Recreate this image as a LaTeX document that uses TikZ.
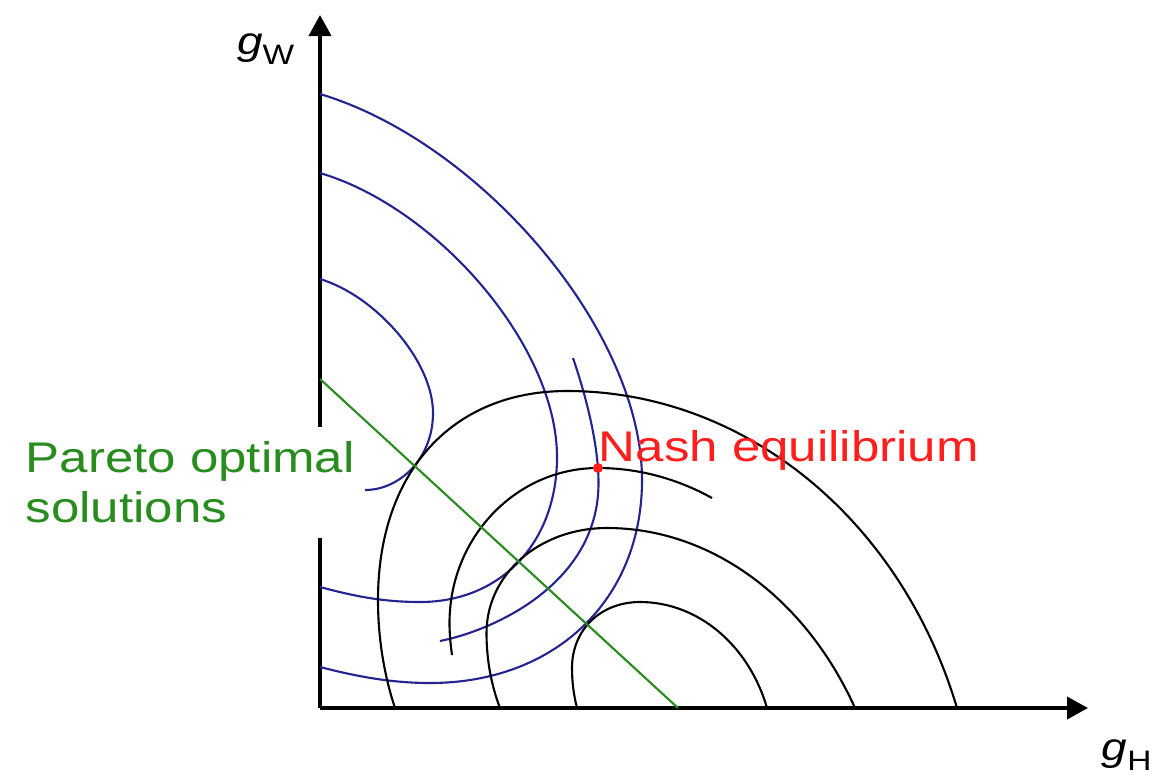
\documentclass[tikz,border=0pt]{standalone}
\usepackage{fontspec}
\setmainfont{Liberation Sans}
\usepackage{xcolor}
\usepackage{tikz}
\usetikzlibrary{arrows.meta,positioning}
\definecolor{curveblue}{RGB}{36,36,145}
\definecolor{paretogreen}{RGB}{40,140,30}
\definecolor{nashred}{RGB}{255,30,30}
\tikzset{
  axisline/.style = {line width=1.1pt, -{Triangle[length=2.1mm,width=2.2mm]}},
  wcurve/.style   = {curveblue, line width=0.6pt},
  hcurve/.style   = {black, line width=0.6pt},
  pareto/.style   = {paretogreen, line width=0.6pt},
  axlab/.style    = {inner sep=0pt, xscale=1.19, font=\fontsize{11}{13}\selectfont},
  biglab/.style   = {inner sep=0pt, xscale=1.19, font=\fontsize{12.2}{14.2}\selectfont},
}

\begin{document}
\begin{tikzpicture}
\useasboundingbox (-3.20,-0.68) rectangle (8.50,7.08);
\coordinate (O) at (0,0);
\coordinate (xend) at (7.68,0);
\coordinate (yend) at (0,6.93);
\draw[axisline] (O) -- (xend);
\draw[axisline] (O) -- (yend);
\node[axlab, anchor=base east] (gw) at (-0.25,6.53) {\textit{g}\raisebox{-1mm}{\fontsize{8}{9}\selectfont W}};
\node[axlab, anchor=base west] (gh) at (7.81,-0.52) {\textit{g}\raisebox{-1mm}{\fontsize{8}{9}\selectfont H}};
\node[biglab, paretogreen, fill=white, inner xsep=0.5mm, inner ysep=1.5mm,
      align=left, anchor=north west] (paretolab) at (-3.01,2.82) {Pareto optimal\\solutions};
% wife
\draw[wcurve] (0,6.14) .. controls (1.6,5.66) and (3.22,3.78) .. (3.22,2.28)
  .. controls (3.22,1.08) and (2.35,0.25) .. (1.10,0.25)
  .. controls (0.70,0.25) and (0.35,0.32) .. (0,0.41);
\draw[wcurve] (0,5.35) .. controls (1.18,5.0) and (2.37,3.615) .. (2.37,2.51)
  .. controls (2.37,1.655) and (1.81,1.06) .. (1.0,1.06)
  .. controls (0.6,1.06) and (0.3,1.13) .. (0,1.21);
\draw[wcurve] (0,4.29) .. controls (0.56,4.12) and (1.13,3.47) .. (1.13,2.95)
  .. controls (1.13,2.50) and (0.80,2.18) .. (0.45,2.18);
\draw[wcurve] (2.53,3.50) .. controls (2.65,3.15) and (2.785,2.65) .. (2.785,2.25)
  .. controls (2.785,1.25) and (1.75,0.78) .. (1.20,0.67);
% husband
\draw[hcurve] (0.75,0) .. controls (0.638,0.338) and (0.58,0.708) .. (0.58,1.08)
  .. controls (0.58,2.355) and (1.317,3.17) .. (2.47,3.17)
  .. controls (4.236,3.17) and (5.804,1.897) .. (6.37,0);
\draw[hcurve] (1.32,0.53) .. controls (1.305,0.64) and (1.295,0.74) .. (1.295,0.85)
  .. controls (1.295,1.706) and (1.96,2.40) .. (2.78,2.40)
  .. controls (3.174,2.40) and (3.565,2.297) .. (3.92,2.10);
\draw[hcurve] (1.80,0) .. controls (1.711,0.232) and (1.665,0.489) .. (1.665,0.75)
  .. controls (1.665,1.338) and (2.195,1.80) .. (2.87,1.80)
  .. controls (3.900,1.80) and (4.849,1.110) .. (5.35,0);
\draw[hcurve] (2.57,0) .. controls (2.537,0.127) and (2.52,0.263) .. (2.52,0.40)
  .. controls (2.52,0.783) and (2.806,1.06) .. (3.20,1.06)
  .. controls (3.775,1.06) and (4.286,0.634) .. (4.47,0);
\coordinate (pw) at (0,3.29);
\coordinate (ph) at (3.58,0);
\draw[pareto] (pw) -- (ph);
\node[circle, fill=nashred, inner sep=0pt, minimum size=1mm] (nash) at (2.78,2.40) {};
\node[biglab, nashred, anchor=base west, yshift=0.66mm] (nashlab) at (nash.center) {Nash equilibrium};
\end{tikzpicture}
\end{document}
